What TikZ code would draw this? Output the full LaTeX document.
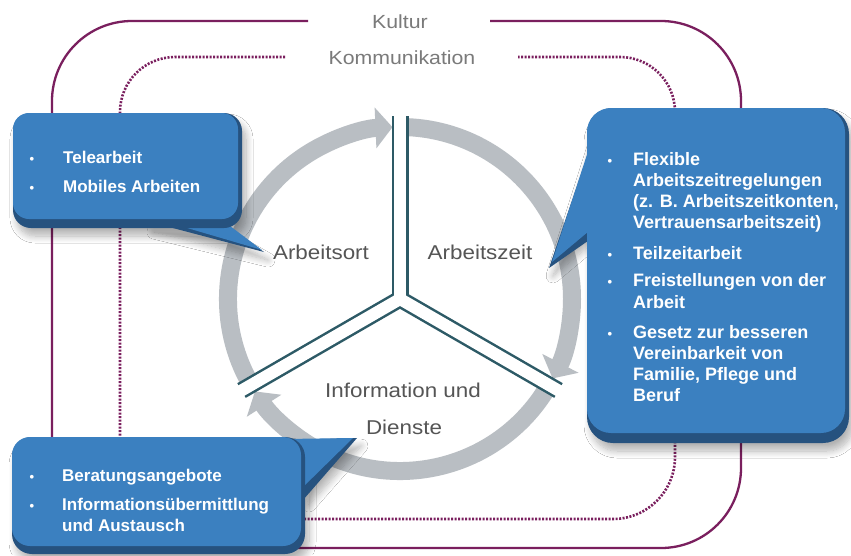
\documentclass[tikz,border=0pt]{standalone}
\usepackage{fontspec}
\setmainfont{Liberation Sans}
\newfontfamily\lblfont[FakeStretch=1.12]{Liberation Sans}
\usetikzlibrary{arrows.meta,shadows.blur,calc}
\definecolor{boxblue}{HTML}{3B80C0}
\definecolor{boxrim}{HTML}{26527F}
\definecolor{ringgrey}{HTML}{B9BEC3}
\definecolor{spokec}{HTML}{2D5A66}
\definecolor{purp}{HTML}{7A1F5E}
\definecolor{lblc}{HTML}{555555}
\definecolor{toplblc}{HTML}{7A7A7A}
\tikzset{
 btxt/.style={text=white, font=\fontsize{17}{20}\selectfont\bfseries, anchor=base west, inner sep=0pt},
 rtxt/.style={text=white, font=\fontsize{18}{21}\selectfont\bfseries, anchor=base west, inner sep=0pt},
 bul/.style={text=white, font=\fontsize{13}{15}\selectfont\bfseries, anchor=base, inner sep=0pt},
 ringlbl/.style={text=lblc, font=\lblfont\fontsize{20}{24}\selectfont, anchor=base, inner sep=0pt},
 toplbl/.style={text=toplblc, font=\lblfont\fontsize{19}{22}\selectfont, anchor=base, inner sep=0pt},
 ringarc/.style={draw=ringgrey, line width=18pt, -{Triangle[width=40pt,length=17pt]}},
 spokedark/.style={draw=spokec, line width=17pt},
 spokewhite/.style={draw=white, line width=12pt},
 solidp/.style={draw=purp, line width=2.3pt},
 dotp/.style={draw=purp, line width=2.6pt, dash pattern=on 2pt off 1.5pt},
 shad/.style={blur shadow={shadow xshift=4pt, shadow yshift=-8pt, shadow blur steps=10, shadow opacity=30, shadow blur radius=7pt}},
 rimfill/.style={fill=boxrim},
 bluefill/.style={fill=boxblue},
}
\begin{document}
\begin{tikzpicture}[x=1pt,y=-1pt]
\useasboundingbox[fill=white] (0,0) rectangle (851,555);

% top labels
\node[toplbl] (kultur) at (400,28) {Kultur};
\node[toplbl] (komm) at (402,64) {Kommunikation};

% coordinates for the framing lines
\coordinate (kL) at (308,21);
\coordinate (kR) at (490,21);
\coordinate (mL) at (285,57);
\coordinate (mR) at (518,57);

% solid frame (Kultur)
\draw[solidp] (kL) [rounded corners=80pt] -- (52,21) [sharp corners] -- (52,548)
   [rounded corners=80pt] -- (741,548) -- (741,21) -- (kR);
% dotted frame (Kommunikation)
\draw[dotp] (mL) [rounded corners=55pt] -- (120,57) [sharp corners] -- (120,519)
   [rounded corners=62pt] -- (675,519) [rounded corners=55pt] -- (675,57) -- (mR);

% ring
\coordinate (C) at (400,299);
\draw[ringarc] ($(C)+(150:172)$) arc[start angle=150, end angle=267.5, radius=172];
\draw[ringarc] ($(C)+(270:172)$) arc[start angle=270, end angle=387.5, radius=172];
\draw[ringarc] ($(C)+(30:172)$) arc[start angle=30, end angle=147.5, radius=172];

% spokes
\draw[spokedark] (C) -- ++(270:183);
\draw[spokedark] (C) -- ++(30:183);
\draw[spokedark] (C) -- ++(150:183);
\draw[spokewhite] (C) -- ++(270:185);
\draw[spokewhite] (C) -- ++(30:185);
\draw[spokewhite] (C) -- ++(150:185);

% ring labels
\node[ringlbl] (ort) at (321,259) {Arbeitsort};
\node[ringlbl] (zeit) at (480,259) {Arbeitszeit};
\node[ringlbl] (info) at (403,397) {Information und};
\node[ringlbl] (dienste) at (404,434) {Dienste};

% ---------- left box ----------
\path[shad, rounded corners=18pt] (13,113) rectangle (242,228);
\path[shad] (150,224) -- (264,252) -- (215,224) -- cycle;
\fill[boxrim] (150,222) -- (264,252) -- (220,222) -- cycle;
\fill[boxblue] (160,220) -- (262,250) -- (222,220) -- cycle;
\fill[rimfill, rounded corners=18pt] (13,113) rectangle (242,228);
\fill[bluefill, rounded corners=16pt] (13,113) rectangle (238,219);
\node[bul] (lb1) at (32,163) {•};
\node[btxt] (lt1) at (63,163) {Telearbeit};
\node[bul] (lb2) at (32,192) {•};
\node[btxt] (lt2) at (63,192) {Mobiles Arbeiten};

% ---------- right box ----------
\path[shad, rounded corners=26pt] (587,108) rectangle (849,443);
\path[shad] (592,133) -- (549,268) -- (592,232) -- cycle;
\fill[boxrim] (595,133) -- (549,268) -- (595,236) -- cycle;
\fill[boxblue] (595,130) -- (552,262) -- (595,226) -- cycle;
\fill[rimfill, rounded corners=26pt] (587,108) rectangle (849,443);
\fill[bluefill, rounded corners=24pt] (587,108) rectangle (845,433);
\node[bul] (rb1) at (610,165) {•};
\node[rtxt] (rt1) at (633,165) {Flexible};
\node[rtxt] (rt2) at (633,186) {Arbeitszeitregelungen};
\node[rtxt] (rt3) at (633,207) {(z. B. Arbeitszeitkonten,};
\node[rtxt] (rt4) at (633,228) {Vertrauensarbeitszeit)};
\node[bul] (rb2) at (610,259) {•};
\node[rtxt] (rt5) at (633,259) {Teilzeitarbeit};
\node[bul] (rb3) at (610,286) {•};
\node[rtxt] (rt6) at (633,286) {Freistellungen von der};
\node[rtxt] (rt7) at (633,308) {Arbeit};
\node[bul] (rb4) at (610,338) {•};
\node[rtxt] (rt8) at (633,338) {Gesetz zur besseren};
\node[rtxt] (rt9) at (633,359) {Vereinbarkeit von};
\node[rtxt] (rt10) at (633,380) {Familie, Pflege und};
\node[rtxt] (rt11) at (633,401) {Beruf};

% ---------- bottom box ----------
\path[shad, rounded corners=20pt] (12,437) rectangle (305,554);
\path[shad] (285,440) -- (357,438) -- (305,497) -- cycle;
\fill[boxrim] (285,440) -- (357,438) -- (303,500) -- cycle;
\fill[boxblue] (285,439) -- (353,438) -- (300,490) -- cycle;
\fill[rimfill, rounded corners=20pt] (12,437) rectangle (305,554);
\fill[bluefill, rounded corners=18pt] (12,437) rectangle (301,546);
\node[bul] (bb1) at (32,481) {•};
\node[btxt] (bt1) at (62,481) {Beratungsangebote};
\node[bul] (bb2) at (32,510) {•};
\node[btxt] (bt2) at (62,510) {Informationsübermittlung};
\node[btxt] (bt3) at (62,531) {und Austausch};
\end{tikzpicture}
\end{document}
